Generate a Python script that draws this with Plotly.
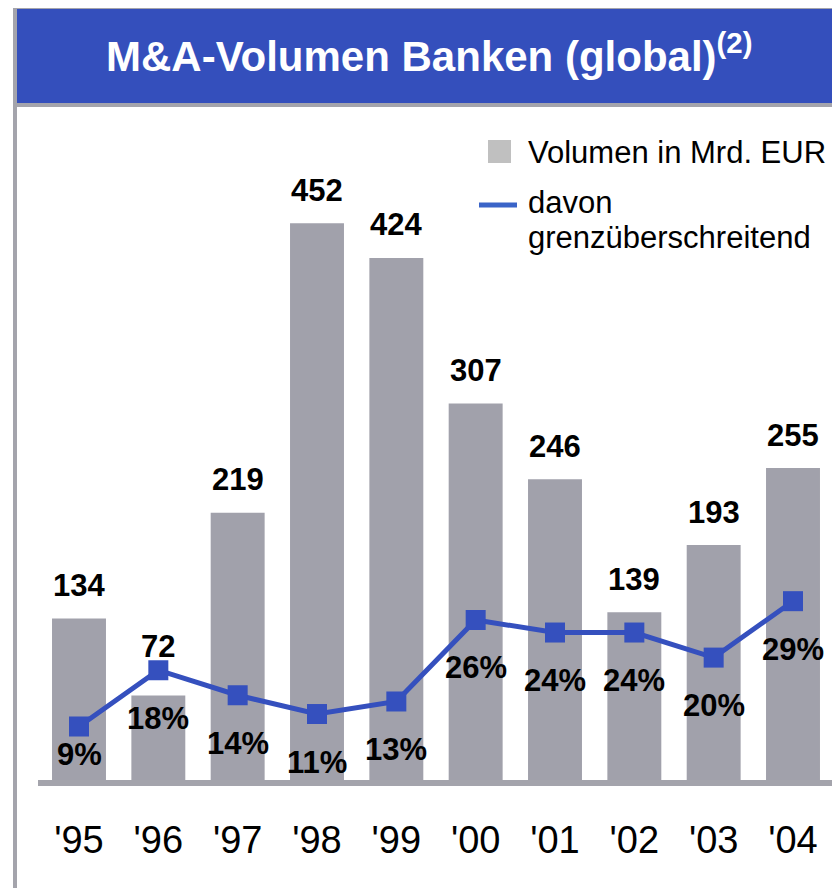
import plotly.graph_objects as go

# ---- data ----
years = ["'95", "'96", "'97", "'98", "'99", "'00", "'01", "'02", "'03", "'04"]
volume = [134, 72, 219, 452, 424, 307, 246, 139, 193, 255]
cross_border_pct = [9, 18, 14, 11, 13, 26, 24, 24, 20, 29]

title_text = "M&amp;A-Volumen Banken (global)"
legend_bar = "Volumen in Mrd. EUR"
legend_line = ["davon", "grenzüberschreitend"]

# ---- styling ----
# page body has an 8px margin, so the figure is placed at (8, 8) in the window
OFF = 8
WIN_W, WIN_H = 840, 888
W, H = WIN_W - OFF, WIN_H - OFF
FONT = "Liberation Sans, Arial, Helvetica, sans-serif"
BAR_COLOR = "#a1a1ab"
LINE_COLOR = "#3550be"
BLUE = "#344fbc"
FRAME = "#a4a4ac"

plot_top, plot_bot = 110, 785          # window pixel rows
plot_h = plot_bot - plot_top
bar_px_per_unit = 1.243
line_zero_px, line_px_per_pct = 783, 6.27


def px(xp):
    """window x pixel -> paper x"""
    return (xp - OFF) / W


def py(yp):
    """window y pixel -> paper y"""
    return (WIN_H - yp) / H


fig = go.Figure()
fig.add_trace(go.Bar(
    x=years, y=volume, marker=dict(color=BAR_COLOR, line=dict(width=0)),
    showlegend=False, hoverinfo="x+y", name=legend_bar,
))
fig.add_trace(go.Scatter(
    x=years, y=cross_border_pct, yaxis="y2", mode="lines+markers",
    line=dict(color=LINE_COLOR, width=5),
    marker=dict(symbol="square", size=20, color=LINE_COLOR),
    showlegend=False, name=" ".join(legend_line),
))

annotations = []
# value labels above bars
value_shift = {"'96": 49}
for yr, v in zip(years, volume):
    annotations.append(dict(
        x=yr, y=v, xref="x", yref="y", text=f"<b>{v}</b>", showarrow=False,
        xanchor="center", yanchor="middle", yshift=value_shift.get(yr, 33),
        font=dict(family=FONT, size=31, color="black"),
    ))
# percentage labels below markers
pct_shift = {"'95": -28}
for yr, p in zip(years, cross_border_pct):
    annotations.append(dict(
        x=yr, y=p, xref="x", yref="y2", text=f"<b>{p}%</b>", showarrow=False,
        xanchor="center", yanchor="middle", yshift=pct_shift.get(yr, -48),
        font=dict(family=FONT, size=31, color="black"),
    ))
# title
annotations.append(dict(
    x=px(429), y=py(53), xref="paper", yref="paper",
    text=f"<b>{title_text}<sup>(2)</sup></b>", showarrow=False,
    xanchor="center", yanchor="middle",
    font=dict(family=FONT, size=42, color="white"),
))
# legend texts
LEG_FONT = dict(family=FONT, size=31, color="black")
annotations.append(dict(
    x=px(526), y=py(152), xref="paper", yref="paper", text=legend_bar,
    showarrow=False, xanchor="left", yanchor="middle", font=LEG_FONT,
))
annotations.append(dict(
    x=px(526), y=py(202), xref="paper", yref="paper", text=legend_line[0],
    showarrow=False, xanchor="left", yanchor="middle", font=LEG_FONT,
))
annotations.append(dict(
    x=px(526), y=py(237), xref="paper", yref="paper", text=legend_line[1],
    showarrow=False, xanchor="left", yanchor="middle", font=LEG_FONT,
))

shapes = [
    # frame lines
    dict(type="rect", xref="paper", yref="paper", x0=px(13), x1=px(840), y0=py(9), y1=py(5),
         fillcolor=FRAME, line=dict(width=0), layer="below"),
    dict(type="rect", xref="paper", yref="paper", x0=px(13), x1=px(17), y0=py(888), y1=py(5),
         fillcolor=FRAME, line=dict(width=0), layer="below"),
    dict(type="rect", xref="paper", yref="paper", x0=px(17), x1=px(840), y0=py(103), y1=py(9),
         fillcolor=BLUE, line=dict(width=0), layer="below"),
    dict(type="rect", xref="paper", yref="paper", x0=px(17), x1=px(840), y0=py(107), y1=py(103),
         fillcolor=FRAME, line=dict(width=0), layer="below"),
    # baseline
    dict(type="line", xref="paper", yref="paper", x0=px(38), x1=px(835), y0=py(783), y1=py(783),
         line=dict(color=FRAME, width=6), layer="above"),
    # legend symbols
    dict(type="rect", xref="paper", yref="paper", x0=px(488), x1=px(511), y0=py(163), y1=py(140),
         fillcolor="#c0c0c0", line=dict(width=0)),
    dict(type="line", xref="paper", yref="paper", x0=px(479), x1=px(517), y0=py(205), y1=py(205),
         line=dict(color="#3a64c8", width=5)),
]

y_top = plot_h / bar_px_per_unit
y2_bot = -(plot_bot - line_zero_px) / line_px_per_pct
y2_top = (line_zero_px - plot_top) / line_px_per_pct

fig.update_layout(
    width=W, height=H,
    margin=dict(l=0, r=0, t=0, b=0),
    paper_bgcolor="white", plot_bgcolor="rgba(0,0,0,0)",
    bargap=0.32,
    font=dict(family=FONT, color="black"),
    xaxis=dict(
        domain=[px(39.33), px(832.67)], type="category",
        range=[-0.5, len(years) - 0.5],
        showgrid=False, zeroline=False, showline=False,
        ticks="outside", ticklen=21, tickcolor="rgba(0,0,0,0)",
        tickfont=dict(family=FONT, size=38, color="black"),
    ),
    yaxis=dict(
        domain=[py(plot_bot), py(plot_top)], range=[0, y_top],
        visible=False, showgrid=False, zeroline=False,
    ),
    yaxis2=dict(
        domain=[py(plot_bot), py(plot_top)], range=[y2_bot, y2_top],
        overlaying="y", visible=False, showgrid=False, zeroline=False,
    ),
    annotations=annotations,
    shapes=shapes,
)

fig.write_html("out.html")
